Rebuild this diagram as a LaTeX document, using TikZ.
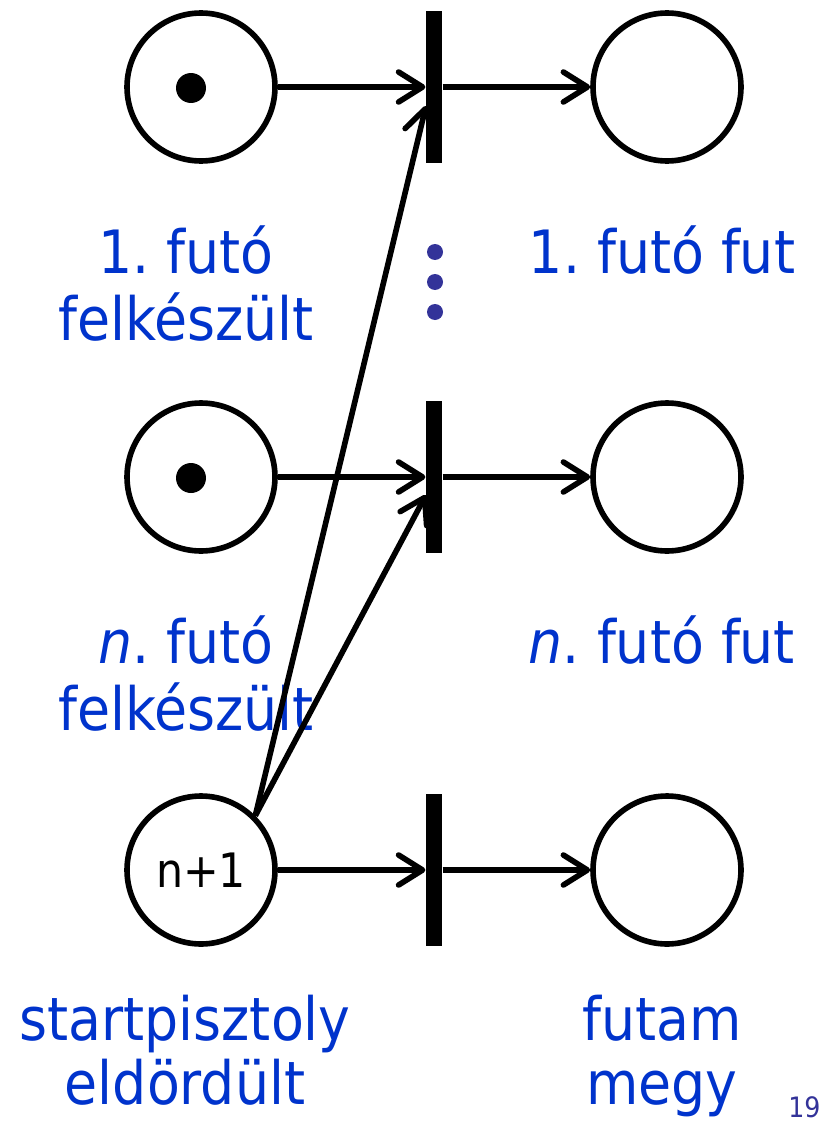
\documentclass[tikz,border=0pt]{standalone}
\usepackage{fontspec}
\setmainfont{DejaVu Sans Condensed}
\usetikzlibrary{arrows.meta,positioning}
\definecolor{labelblue}{HTML}{0033CC}
\definecolor{dotblue}{HTML}{333399}
\newcommand{\PlaceText}[1]{{\fontsize{34}{37}\selectfont #1}}
\frenchspacing

\begin{document}
\begin{tikzpicture}[
  x=0.02cm, y=-0.02cm,
  place/.style={circle, draw=black, line width=3.2pt, minimum size=2.96cm, inner sep=0pt,
    font=\fontsize{27}{30}\selectfont},
  token/.style={circle, fill=black, minimum size=0.6cm, inner sep=0pt},
  transition/.style={rectangle, fill=black, minimum width=0.33cm, minimum height=3.04cm, inner sep=0pt},
  arc/.style={-{Straight Barb[length=4.8mm,width=6mm,round]}, line width=3.2pt},
  caption/.style={text=labelblue, align=center, inner sep=0pt},
  ellipsisdot/.style={circle, fill=dotblue, minimum size=0.32cm, inner sep=0pt}
]
\useasboundingbox (0,0) rectangle (823,1122);

% ---------- Places ----------
\node[place] (p1) at (201,87) {};
\node[place] (pn) at (201,477) {};
\node[place] (ps) at (201,870) {n+1};
\node[place] (q1) at (667,87) {};
\node[place] (qn) at (667,477) {};
\node[place] (qf) at (667,870) {};

% ---------- Tokens ----------
\node[token] (k1) at (191,88) {};
\node[token] (kn) at (191,478) {};

% ---------- Transitions ----------
\node[transition] (t1) at (434,87) {};
\node[transition] (tn) at (434,477) {};
\node[transition] (tf) at (434,870) {};

% ---------- Dots between t1 and tn ----------
\node[ellipsisdot] (d1) at (435,252) {};
\node[ellipsisdot] (d2) at (435,282) {};
\node[ellipsisdot] (d3) at (435,312) {};

% ---------- Labels ----------
\node[caption, anchor=base] (l1) at (186,273) {\PlaceText{1. futó}};
\node[caption, anchor=base] (l1b) at (186,340) {\PlaceText{felkészült}};
\node[caption, anchor=base] (r1) at (662,273) {\PlaceText{1. futó fut}};
\node[caption, anchor=base] (ln) at (186,663) {\PlaceText{\textit{n}. futó}};
\node[caption, anchor=base] (lnb) at (186,730) {\PlaceText{felkészült}};
\node[caption, anchor=base] (rn) at (662,663) {\PlaceText{\textit{n}. futó fut}};
\node[caption, anchor=base] (ls) at (185,1040) {\PlaceText{startpisztoly}};
\node[caption, anchor=base] (lsb) at (185,1104) {\PlaceText{eldördült}};
\node[caption, anchor=base] (rf) at (662,1040) {\PlaceText{futam}};
\node[caption, anchor=base] (rfb) at (662,1104) {\PlaceText{megy}};
\node[text=dotblue, anchor=base west, inner sep=0pt, font=\fontsize{16}{18}\selectfont] (pg) at (788,1117) {19};

% ---------- Arcs ----------
\coordinate (t1in) at (426,106);
\coordinate (tnin) at (426,495);
\draw[arc] (p1) -- (t1);
\draw[arc] (pn) -- (tn);
\draw[arc] (ps) -- (tf);
\draw[arc] (t1) -- (q1);
\draw[arc] (tn) -- (qn);
\draw[arc] (tf) -- (qf);
\draw[arc] (ps.north east) -- (t1in);
\draw[arc] (ps.north east) -- (tnin);

\end{tikzpicture}
\end{document}
